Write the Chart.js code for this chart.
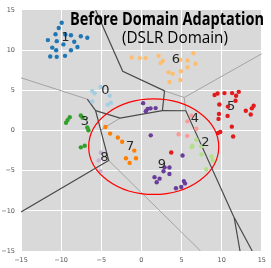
<!DOCTYPE html>
<html>
<head>
<meta charset="utf-8">
<script src="https://cdn.jsdelivr.net/npm/chart.js@4.4.0/dist/chart.umd.min.js"></script>
<style>
  html, body { margin: 0; padding: 0; background: #fff; }
</style>
</head>
<body>
<canvas id="DomainChart" width="271" height="268"></canvas>
<script>
// Điểm của từng cụm (x, y)
const cluster0 = [[-5.1, 5.41], [-6.13, 4.92], [-5.83, 4.63], [-3.96, 4.31], [-3.8, 3.45], [-4.2, 3.21], [-6.13, 3.61]];
const cluster1 = [[-9.93, 13.4], [-10.3, 12.75], [-10.7, 11.97], [-9.48, 11.93], [-8.78, 11.85], [-7.55, 11.73],
  [-6.74, 11.53], [-11.65, 11.24], [-10.55, 11.11], [-9.72, 10.71], [-8.37, 11.04], [-11.11, 10.31],
  [-10.62, 9.98], [-8.78, 9.98], [-7.97, 10.38], [-11.36, 9.2], [-10.55, 9.16], [-9.52, 9.28]];
const cluster2 = [[6.84, -1.16], [6.35, -1.9], [6.26, -2.1], [7.45, -1.98], [7.49, -3.0], [8.72, -3.24], [8.89, -3.73], [8.07, -4.83]];
const cluster3 = [[-8.93, 1.65], [-9.2, 1.29], [-9.39, 0.95], [-7.55, 1.86], [-7.33, 1.59], [-6.74, 0.37], [-6.6, 0.02], [-7.55, -2.1], [-7.06, -1.9]];
const cluster4 = [[6.23, 1.84], [5.74, 1.13], [6.84, 0.22], [4.63, -0.47], [5.7, -0.67]];
const cluster5 = [[9.11, 4.41], [9.48, 4.59], [10.34, 4.65], [11.29, 4.65], [12.12, 4.8], [11.79, 4.31], [9.7, 3.22],
  [10.77, 2.97], [11.72, 3.7], [13.0, 2.45], [13.75, 2.75], [13.98, 3.08], [13.61, 1.98], [9.66, 2.06],
  [9.6, 1.44], [10.73, 1.81], [11.26, 0.47], [9.82, -0.18], [9.54, -0.31], [11.42, -0.76], [3.71, -2.75]];
const cluster6 = [[-1.22, 9.08], [-0.21, 9.0], [0.52, 9.0], [2.14, 9.28], [2.67, 8.67], [2.39, 8.38], [4.84, 8.79],
  [5.74, 8.71], [6.47, 9.61], [6.75, 8.3], [5.74, 7.86], [4.91, 7.37], [3.37, 7.25], [3.9, 7.04], [4.84, 6.27], [3.49, 6.02]];
const cluster7 = [[-4.48, 0.43], [-3.9, -0.39], [-2.94, -0.88], [-2.4, -1.41], [-0.89, -2.51], [-1.93, -3.45], [-0.68, -3.45], [-1.47, -4.04]];
const cluster8 = [[-5.06, -2.75], [-5.33, -3.73], [-5.1, -5.08]];
const cluster9 = [[0.21, 3.4], [0.55, 2.39], [0.77, 2.69], [1.13, 2.75], [1.77, 2.78], [1.16, -0.61], [5.12, -3.12],
  [2.88, -4.59], [3.49, -4.61], [2.75, -5.08], [3.49, -5.42], [1.63, -5.81], [2.26, -6.0], [1.9, -6.45],
  [4.3, -7.2], [4.96, -7.04], [5.28, -6.3], [5.43, -6.59]];

const clusters = [cluster0, cluster1, cluster2, cluster3, cluster4, cluster5, cluster6, cluster7, cluster8, cluster9];
const clusterColors = ['#a6cee3', '#1f78b4', '#b2df8a', '#33a02c', '#fb9a99', '#e31a1c', '#fdbf6f', '#ff7f00', '#cab2d6', '#6a3d9a'];

// Vị trí nhãn số của cụm
const clusterNames = ['0', '1', '2', '3', '4', '5', '6', '7', '8', '9'];
const labelX = [-4.48, -9.47, 7.98, -7.03, 6.66, 11.17, 4.3, -1.41, -4.61, 2.55];
const labelY = [4.92, 11.5, -1.49, 1.16, 1.5, 2.96, 8.87, -2.02, -3.33, -4.26];

// Đường biên (đậm / nhạt)
const darkLines = [
  [[-5.71, 15], [-2.33, 7.37], [2.88, 4.92]],
  [[2.88, 4.92], [2.61, 2.47]],
  [[-5.71, 2.47], [-2.67, 1.53], [2.61, 2.47], [5.53, 2.45], [11.47, -10.67], [13.8, -15]],
  [[11.56, -10.89], [12.28, -15]],
  [[-6.74, 3.89], [-5.71, 2.47], [-4.08, -3.73], [-15, -10.13]]
];
const lightLines = [
  [[2.88, 4.92], [5.33, 4.1], [15, 9.55]],
  [[5.33, 4.1], [5.53, 2.45]],
  [[-15, 6.55], [-6.74, 3.89]],
  [[-2.67, 1.53], [-5.06, 0.06]],
  [[-4.08, -3.73], [7.37, -15]]
];

// Vòng tròn đỏ
const ringCenter = [1.53, -2.02];
const ringRadius = [8.1, 5.94];

const tickValues = [-15, -10, -5, 0, 5, 10, 15];
const titleText = 'Before Domain Adaptation';
const subTitleText = '(DSLR Domain)';

const toXY = arr => arr.map(p => ({ x: p[0], y: p[1] }));

const datasets = [];
clusters.forEach((c, i) => {
  datasets.push({
    label: clusterNames[i],
    data: toXY(c),
    backgroundColor: clusterColors[i],
    borderWidth: 0,
    pointRadius: 2.2,
    order: 1
  });
});
darkLines.forEach(l => {
  datasets.push({
    data: toXY(l), showLine: true, pointRadius: 0,
    borderColor: '#4a4a4a', borderWidth: 1.2, order: 2
  });
});
lightLines.forEach(l => {
  datasets.push({
    data: toXY(l), showLine: true, pointRadius: 0,
    borderColor: '#a3a3a3', borderWidth: 1, order: 2
  });
});

function fitText(ctx, text, left, baseline, width) {
  const w = ctx.measureText(text).width;
  ctx.save();
  ctx.translate(left, baseline);
  ctx.scale(width / w, 1);
  ctx.fillText(text, 0, 0);
  ctx.restore();
}

const overlay = {
  id: 'overlay',
  beforeDraw(chart) {
    const { ctx, chartArea: a } = chart;
    ctx.save();
    ctx.fillStyle = '#d9d9d9';
    ctx.fillRect(a.left, a.top, a.right - a.left, a.bottom - a.top);
    ctx.restore();
  },
  afterDatasetsDraw(chart) {
    const { ctx, scales: { x, y } } = chart;
    ctx.save();
    // vòng đỏ
    const cx = x.getPixelForValue(ringCenter[0]);
    const cy = y.getPixelForValue(ringCenter[1]);
    const rx = Math.abs(x.getPixelForValue(ringCenter[0] + ringRadius[0]) - cx);
    const ry = Math.abs(y.getPixelForValue(ringCenter[1] + ringRadius[1]) - cy);
    ctx.strokeStyle = '#ff0000';
    ctx.lineWidth = 1.2;
    ctx.beginPath();
    ctx.ellipse(cx, cy, rx, ry, 0, 0, Math.PI * 2);
    ctx.stroke();

    // nhãn cụm
    ctx.fillStyle = '#262626';
    ctx.font = '13px "DejaVu Sans"';
    ctx.textAlign = 'center';
    ctx.textBaseline = 'middle';
    clusterNames.forEach((n, i) => {
      ctx.fillText(n, x.getPixelForValue(labelX[i]), y.getPixelForValue(labelY[i]));
    });

    // tiêu đề
    ctx.fillStyle = '#000';
    ctx.textAlign = 'left';
    ctx.textBaseline = 'alphabetic';
    ctx.font = 'bold 17px "Open Sans"';
    fitText(ctx, titleText, 70, 25, 194);
    ctx.font = '16px "Open Sans"';
    fitText(ctx, subTitleText, 122, 43, 106);
    ctx.restore();
  }
};

const tickFont = { family: 'DejaVu Sans', size: 6.5 };
const minusLabel = v => (v < 0 ? '\u2212' + Math.abs(v) : String(v));

const Domain_Chart = new Chart(document.getElementById('DomainChart'), {
  type: 'scatter',
  data: { datasets: datasets },
  options: {
    responsive: false,
    animation: false,
    layout: { padding: { top: 6, right: 5, left: 0, bottom: 0 } },
    plugins: { legend: { display: false }, tooltip: { enabled: false } },
    scales: {
      x: {
        min: -15, max: 15,
        afterFit: s => { s.height = 17; },
        afterBuildTicks: s => { s.ticks = tickValues.map(v => ({ value: v })); },
        grid: { color: '#ffffff', lineWidth: 1, drawTicks: false },
        border: { display: false },
        ticks: { padding: 5, color: '#555', font: tickFont, callback: minusLabel, maxRotation: 0 }
      },
      y: {
        min: -15, max: 15,
        afterFit: s => { s.width = 21; },
        afterBuildTicks: s => { s.ticks = tickValues.map(v => ({ value: v })); },
        grid: { color: '#ffffff', lineWidth: 1, drawTicks: false },
        border: { display: false },
        ticks: { padding: 6, color: '#555', font: tickFont, callback: minusLabel }
      }
    }
  },
  plugins: [overlay]
});
</script>
</body>
</html>
